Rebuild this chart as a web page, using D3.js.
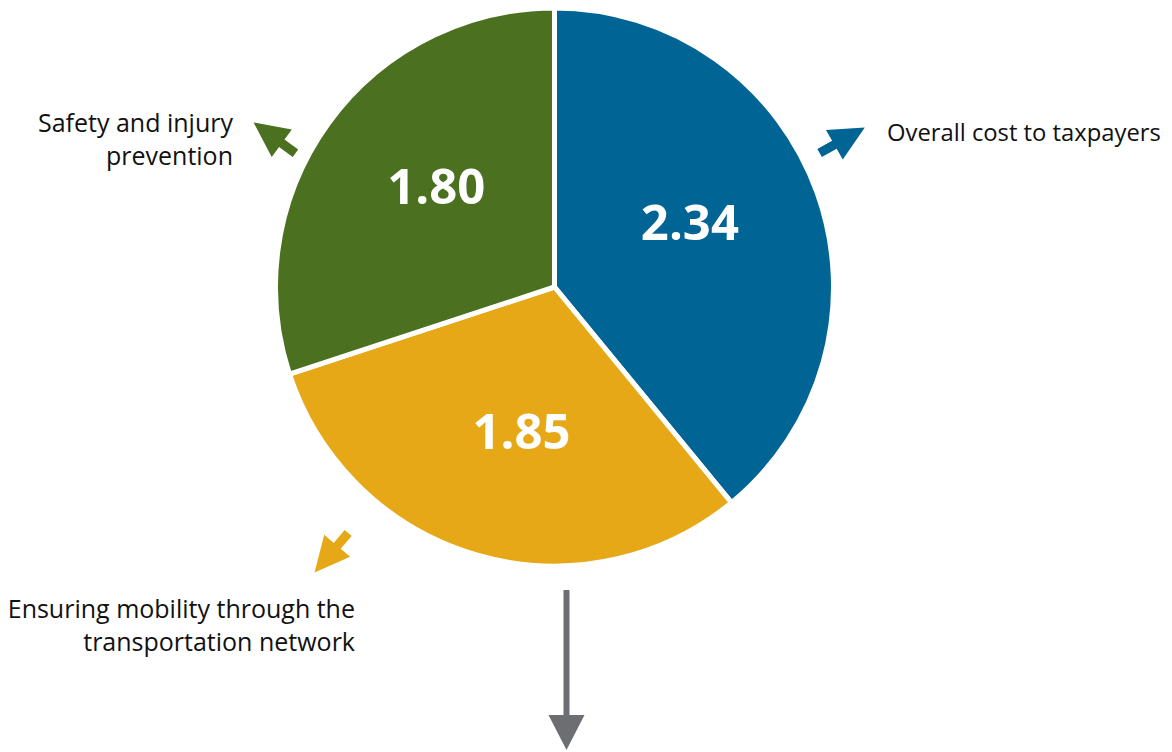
<!DOCTYPE html>
<html><head><meta charset="utf-8">
<script src="https://cdn.jsdelivr.net/npm/d3@7"></script>
<style>html,body{margin:0;padding:0;background:#fff;}svg{display:block;}</style>
</head><body>
<svg id="chart" width="1172" height="752"></svg>
<script>
// Data
const categories = ["Overall cost to taxpayers", "Ensuring mobility through the transportation network", "Safety and injury prevention"];
const values = [2.34, 1.85, 1.80];
const valueLabels = ["2.34", "1.85", "1.80"];
const labelLines = [["Overall cost to taxpayers"], ["Ensuring mobility through the", "transportation network"], ["Safety and injury", "prevention"]];

// Styles / layout
const colors = ["#006494", "#E6A817", "#4A7020"];
const cx = 554.5, cy = 287, R = 279;
// value label placement: angle (deg clockwise from top) and radius
const valAngles = [64.5, 192.9, 310.3];
const valRadii = [150, 148, 155];
// outward arrows: tail position (angle, radius) and pointing direction
const arrowCfg = [
  {pos: 63.2, r: 297, dir: 60.4},
  {pos: 220.0, r: 321, dir: 220.3},
  {pos: 297.3, r: 291.5, dir: 306.3}
];
const labelPos = [
  {x: 887, y: 141, anchor: "start", size: 23.8},
  {x: 355, y: 618, anchor: "end", size: 25},
  {x: 233, y: 132, anchor: "end", size: 25}
];
const font = "'Open Sans', 'Noto Sans', sans-serif";

const svg = d3.select("#chart");
const g = svg.append("g").attr("transform", `translate(${cx},${cy})`);

const pie = d3.pie().sort(null).value(d => d)(values);
const arc = d3.arc().innerRadius(0).outerRadius(R);

g.selectAll("path.slice").data(pie).join("path")
  .attr("class", "slice")
  .attr("d", arc)
  .attr("fill", (d, i) => colors[i])
  .attr("stroke", "#fff")
  .attr("stroke-width", 5)
  .attr("stroke-linejoin", "round");

const polar = (a, r) => { const rad = a * Math.PI / 180; return [r * Math.sin(rad), -r * Math.cos(rad)]; };

// value labels
g.selectAll("text.val").data(pie).join("text")
  .attr("class", "val")
  .attr("transform", (d, i) => { const c = polar(valAngles[i], valRadii[i]); return `translate(${c[0]},${c[1]})`; })
  .attr("text-anchor", "middle")
  .attr("dy", "0.36em")
  .attr("fill", "#fff")
  .attr("font-family", font)
  .attr("font-weight", 700)
  .attr("font-size", 49)
  .text((d, i) => valueLabels[i]);

// outward arrows
function arrowPath(cfg) {
  const t = polar(cfg.pos, cfg.r);
  const rad = cfg.dir * Math.PI / 180;
  const ux = Math.sin(rad), uy = -Math.cos(rad);
  const px = -uy, py = ux;
  const len = 52, headLen = 35, headW = 17, shaftW = 4.6;
  const P = (s, w) => [t[0] + s * ux + w * px, t[1] + s * uy + w * py];
  const sb = len - headLen;
  const pts = [P(0, -shaftW), P(sb, -shaftW), P(sb, -headW), P(len, 0), P(sb, headW), P(sb, shaftW), P(0, shaftW)];
  return "M" + pts.map(p => p.join(",")).join("L") + "Z";
}
g.selectAll("path.arrow").data(pie).join("path")
  .attr("class", "arrow")
  .attr("d", (d, i) => arrowPath(arrowCfg[i]))
  .attr("fill", (d, i) => colors[i]);

// category labels
labelLines.forEach((lines, i) => {
  const t = svg.append("text")
    .attr("x", labelPos[i].x).attr("y", labelPos[i].y)
    .attr("text-anchor", labelPos[i].anchor)
    .attr("font-family", font)
    .attr("font-size", labelPos[i].size)
    .attr("fill", "#111");
  lines.forEach((ln, j) => {
    t.append("tspan").attr("x", labelPos[i].x).attr("dy", j === 0 ? 0 : 33).text(ln);
  });
});

// gray down arrow
const gx = 566.5;
svg.append("rect").attr("x", gx - 3).attr("y", 590).attr("width", 6).attr("height", 128).attr("fill", "#6D6E71");
svg.append("path").attr("d", `M${gx - 18},715L${gx + 18},715L${gx},750Z`).attr("fill", "#6D6E71");
</script>
</body></html>
